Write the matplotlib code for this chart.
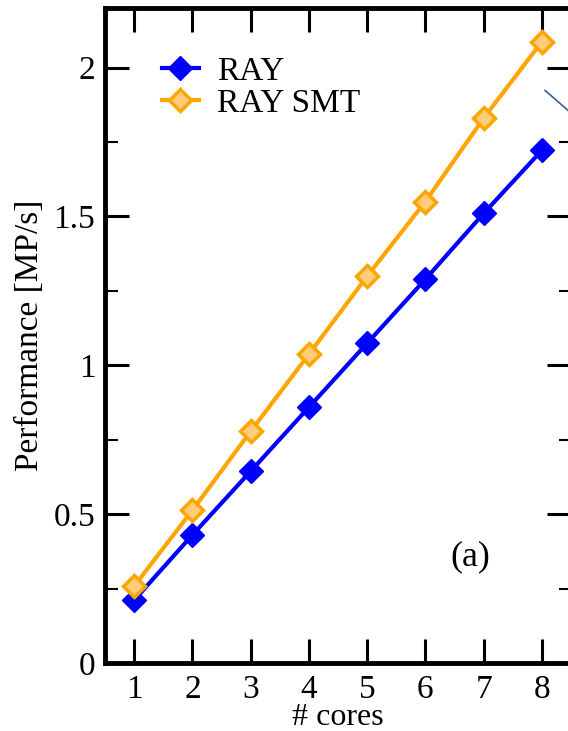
import matplotlib
matplotlib.use("Agg")
import matplotlib.pyplot as plt
from matplotlib.ticker import MultipleLocator

cores = [1, 2, 3, 4, 5, 6, 7, 8]
ray = [0.211, 0.430, 0.644, 0.859, 1.074, 1.289, 1.510, 1.722]
ray_smt = [0.258, 0.513, 0.778, 1.037, 1.299, 1.550, 1.830, 2.087]
xticks = [1, 2, 3, 4, 5, 6, 7, 8]
yticks = [0, 0.5, 1, 1.5, 2]
ytick_labels = ["0", "0.5", "1", "1.5", "2"]

plt.rcParams['font.family'] = ['Liberation Serif', 'DejaVu Serif']

W, H = 568, 731
fig = plt.figure(figsize=(W / 100, H / 100), dpi=100)
left, right, top, bottom = 105, 571, 8, 663
ax = fig.add_axes([left / W, 1 - bottom / H, (right - left) / W, (bottom - top) / H])

ax.plot(cores, ray, color='#0000ff', lw=3, marker='D', ms=12,
        mfc='#0000ff', mec='#0000ff', label='RAY', zorder=3)
ax.plot(cores, ray_smt, color='#ffa500', lw=3, marker='D', ms=11.5,
        mfc='#ffcc77', mec='#ffa500', mew=2.5, label='RAY SMT', zorder=3)

# partial annotation line at top right
ax.plot([8.055, 8.45], [1.923, 1.856], color='#3a5f8a', lw=1.2)

ax.set_xlim(0.5, 8.5)
ax.set_ylim(0, 2.2)
ax.set_xticks(xticks)
ax.set_yticks(yticks)
ax.set_yticklabels(ytick_labels)
ax.yaxis.set_minor_locator(MultipleLocator(0.25))

for s in ax.spines.values():
    s.set_linewidth(3.5)

ax.tick_params(which='major', direction='in', length=17, width=2.2,
               top=True, right=True, labelsize=24)
ax.tick_params(axis='x', which='major', pad=8)
ax.tick_params(axis='y', which='major', pad=7)
ax.tick_params(which='minor', direction='in', length=9, width=1.5,
               top=False, right=True)

ax.set_xlabel('# cores', fontsize=23, labelpad=-1)
ax.set_ylabel('Performance [MP/s]', fontsize=24, labelpad=6)

ax.text(6.77, 0.355, '(a)', fontsize=26, ha='center', va='center')

leg = ax.legend(loc='upper left', bbox_to_anchor=(162 / W, 1 - 56 / H),
                bbox_transform=fig.transFigure, frameon=False,
                fontsize=24, handlelength=1.1, handletextpad=0.55,
                labelspacing=0.05, borderaxespad=0, borderpad=0)

fig.savefig('out.png', dpi=100)
